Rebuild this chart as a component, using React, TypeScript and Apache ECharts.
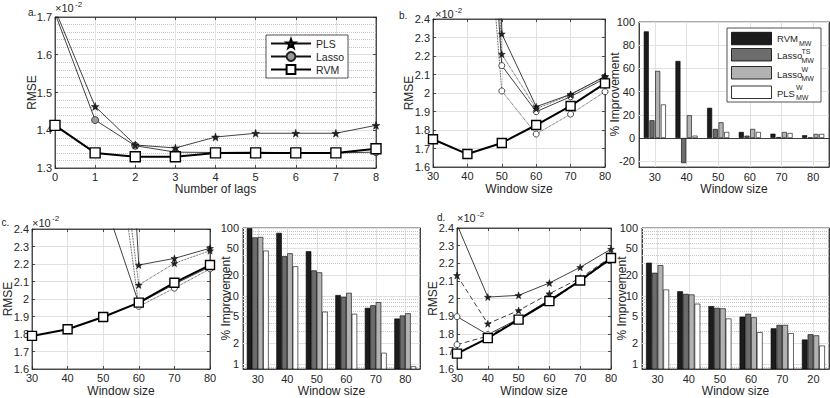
import { useEffect, useRef } from 'react';
import * as echarts from 'echarts';

const FONT = '"Liberation Sans", Arial, Helvetica, sans-serif';
const AX = '#262626';
const GRIDC = '#e1e1e1';
const MINOR = '#c4c4c4';

// ---------------- data ----------------
// panel a
const lags = [0, 1, 2, 3, 4, 5, 6, 7, 8];
const aPLS = [1.72, 1.463, 1.361, 1.353, 1.382, 1.392, 1.392, 1.392, 1.413];
const aLasso = [1.71, 1.427, 1.359, 1.342, 1.341, 1.342, 1.34, 1.34, 1.342];
const aRVM = [1.413, 1.34, 1.33, 1.33, 1.34, 1.34, 1.34, 1.34, 1.351];

// window sizes for the RMSE panels b, c, d
const windows = [30, 40, 50, 60, 70, 80];
const bPLS = [12, 10, 2.32, 1.926, 1.993, 2.09];
const bPLSd = [9, 6, 2.21, 1.915, 1.99, 2.088];
const bLasso = [9, 5, 2.148, 1.899, 1.98, 2.079];
const bLassod = [6, 4.3, 2.011, 1.778, 1.886, 2.007];
const bRVM = [1.75, 1.67, 1.73, 1.827, 1.93, 2.052];

const cPLS = [9, 8, 5.7, 2.194, 2.232, 2.29];
const cPLSd = [7, 6, 3.68, 2.08, 2.204, 2.276];
const cLasso = [4, 3, 2.58, 1.975, 2.085, 2.185];
const cLassod = [6, 5, 3.48, 1.958, 2.062, 2.172];
const cRVM = [1.789, 1.827, 1.897, 1.979, 2.093, 2.194];

const dPLS = [2.42, 2.008, 2.018, 2.088, 2.177, 2.28];
const dPLSd = [2.131, 1.857, 1.932, 2.027, 2.116, 2.235];
const dLasso = [1.897, 1.795, 1.885, 1.993, 2.103, 2.22];
const dLassod = [1.738, 1.787, 1.88, 1.984, 2.097, 2.224];
const dRVM = [1.687, 1.775, 1.88, 1.985, 2.102, 2.23];

// % improvement bar panels
const bCats = ['30', '40', '50', '60', '70', '80'];
const bImpRVM = [91.9, 66.4, 26, 5.2, 3.7, 2.4];
const bImpLassoTS = [15.3, -21.7, 7.8, 2, 0.8, 0.3];
const bImpLassoW = [57.8, 19.6, 13.5, 7.8, 5.2, 3.5];
const bImpPLSW = [28.9, 2, 5.2, 5.2, 4.3, 3.5];

const cCats = ['30', '40', '50', '60', '70', '80'];
const cImp1 = [98, 84, 45, 10.2, 6.6, 4.6];
const cImp2 = [72, 38, 23.5, 9.6, 7.2, 5.1];
const cImp3 = [73, 42, 22, 11, 8, 5.5];
const cImp4 = [46, 27, 5.8, 5.4, 1.44, 0.91];

const dCats = ['30', '40', '50', '60', '70', '20'];
const dImp1 = [30.5, 11.6, 7.0, 4.9, 3.3, 2.26];
const dImp2 = [21.7, 10.6, 6.6, 5.4, 3.7, 2.7];
const dImp3 = [28.1, 10.4, 6.5, 4.8, 3.7, 2.6];
const dImp4 = [12.3, 7.6, 4.6, 2.9, 2.8, 1.84];

// tick values
const linImpTicks = [-20, 0, 20, 40, 60, 80, 100];
const logMajorTicks = [1, 2, 5, 10, 20, 50, 100];
const logMinorTicks = [0.9, 3, 4, 6, 7, 8, 9, 30, 40, 60, 70, 80, 90];

const BAR_COLORS = ['#1c1c1c', '#6c6c6c', '#b2b2b2', '#ffffff'];

// ---------------- helpers ----------------
const STAR =
  'path://M10,0L12.35,6.76L19.51,6.91L13.8,11.24L15.88,18.09L10,14L4.12,18.09L6.2,11.24L0.49,6.91L7.65,6.76Z';

const zip = (xs: number[], ys: number[]) => xs.map((x, i) => [x, ys[i]]);

const tick = { show: true, inside: true, length: 3, lineStyle: { color: AX, width: 0.8 } };
const axLine = { show: true, onZero: false, lineStyle: { color: AX, width: 0.8 } };
const lbl = { color: AX, fontSize: 11, fontFamily: FONT };
const nameStyle = { color: AX, fontSize: 12, fontFamily: FONT };

function valAxis(g: number, min: number, max: number, interval: number, name: string, nameGap: number, extra: any = {}) {
  return {
    type: 'value', gridIndex: g, min, max, interval,
    axisLine: axLine, axisTick: tick,
    axisLabel: { ...lbl, margin: 3 },
    splitLine: { show: true, lineStyle: { color: GRIDC, width: 1 } },
    name, nameLocation: 'middle', nameGap, nameTextStyle: nameStyle,
    ...extra,
  };
}
function mirror(a: any, position: string) {
  return {
    ...a, position, name: '',
    axisLabel: { show: false }, splitLine: { show: false },
    minorSplitLine: { show: false },
  };
}
function catAxis(g: number, cats: string[]) {
  return {
    type: 'category', gridIndex: g, data: cats, boundaryGap: true,
    axisLine: axLine, axisTick: { ...tick, alignWithLabel: true },
    axisLabel: { ...lbl, margin: 4 }, splitLine: { show: false },
    name: 'Window size', nameLocation: 'middle', nameGap: 16, nameTextStyle: nameStyle,
  };
}

function rmseLine(name: string, g: number, xs: number[], ys: number[], kind: string, dash: string, big = false) {
  const lt: any = dash === 'dotted' ? 'dotted' : dash === 'dashed' ? [5, 3] : 'solid';
  const base: any = {
    type: 'line', name, xAxisIndex: 2 * g, yAxisIndex: 2 * g,
    data: zip(xs, ys), clip: true, silent: true, animation: false,
  };
  if (kind === 'rvm')
    return { ...base, symbol: 'rect', symbolSize: big ? 10 : 9, z: 5,
      lineStyle: { color: '#000', width: 2, type: lt },
      itemStyle: { color: '#fff', borderColor: '#000', borderWidth: 1.4 } };
  if (kind === 'pls')
    return { ...base, symbol: STAR, symbolSize: big ? 8 : 7, z: 4,
      lineStyle: { color: '#111', width: 0.8, type: lt },
      itemStyle: { color: '#222', borderColor: '#000', borderWidth: 0.4 } };
  return { ...base, symbol: 'circle', symbolSize: big ? 7 : 6, z: 3,
    lineStyle: { color: '#111', width: 0.8, type: lt },
    itemStyle: { color: big ? '#9a9a9a' : '#fff', borderColor: '#222', borderWidth: 0.8 } };
}

function logBars(g: number, vals: number[], k: number, color: string) {
  return {
    type: 'custom', xAxisIndex: 2 * g, yAxisIndex: 2 * g, z: 10, silent: true, clip: true,
    data: vals.map((v, i) => [i, v]),
    renderItem: (params: any, api: any) => {
      const p = api.coord([api.value(0), api.value(1)]);
      const cs = params.coordSys;
      const band = api.size([1, 0])[0];
      const w = band * 0.165;
      const step = band * 0.185;
      const cx = p[0] + (k - 1.5) * step;
      const bottom = cs.y + cs.height;
      return {
        type: 'rect',
        shape: { x: cx - w / 2, y: p[1], width: w, height: bottom - p[1] },
        style: { fill: color, stroke: '#000', lineWidth: 0.6 },
      };
    },
  };
}

function guides(g: number, nCats: number, majors: number[], minors: number[], zeroDark: boolean) {
  const data: any[] = [];
  for (let i = 0; i < nCats; i++)
    data.push({ xAxis: i, lineStyle: { color: GRIDC, width: 1, type: 'solid' }, label: { show: false } });
  majors.forEach((v) =>
    data.push({
      yAxis: v,
      lineStyle: { color: zeroDark && v === 0 ? AX : GRIDC, width: zeroDark && v === 0 ? 0.9 : 1, type: 'solid' },
      label: { show: true, position: 'start', formatter: String(v), color: AX, fontSize: 11, fontFamily: FONT, distance: 4 },
    }));
  minors.forEach((v) =>
    data.push({ yAxis: v, lineStyle: { color: MINOR, width: 1, type: 'dotted' }, label: { show: false } }));
  return {
    type: 'line', xAxisIndex: 2 * g, yAxisIndex: 2 * g, silent: true, z: 1,
    data: new Array(nCats).fill(null), symbol: 'none',
    markLine: { silent: true, symbol: ['none', 'none'], animation: false, z: 1, data },
  };
}

function txt(x: number, y: number, text: string, size: number) {
  return {
    type: 'text', x, y, silent: true,
    style: { text, fontSize: size, fontFamily: FONT, fill: AX, align: 'left', verticalAlign: 'middle' },
  };
}
function vtxt(x: number, y: number, text: string) {
  return {
    type: 'text', x, y, rotation: Math.PI / 2, silent: true,
    style: { text, fontSize: 12, fontFamily: FONT, fill: AX, align: 'center', verticalAlign: 'middle' },
  };
}

function buildOption() {
  const grids = [
    { left: 55, top: 17, width: 321, height: 151 },
    { left: 433, top: 19, width: 172, height: 148 },
    { left: 639, top: 22, width: 190, height: 145 },
    { left: 32, top: 229, width: 178, height: 140 },
    { left: 243, top: 228, width: 177, height: 141 },
    { left: 457, top: 228, width: 154, height: 141 },
    { left: 642, top: 228, width: 187, height: 141 },
  ].map((g) => ({ ...g, show: true, borderColor: AX, borderWidth: 0.8, containLabel: false, outerBoundsMode: 'none' }));

  const xAxes: any[] = [];
  const yAxes: any[] = [];
  const pushPair = (list: any[], a: any, pos: string) => { list.push(a); list.push(mirror(a, pos)); };

  // a
  pushPair(xAxes, valAxis(0, 0, 8, 1, 'Number of lags', 15), 'top');
  pushPair(yAxes, valAxis(0, 1.3, 1.7, 0.1, '', 17, {
    minorTick: { show: false, splitNumber: 5 },
    minorSplitLine: { show: true, lineStyle: { color: MINOR, type: 'dotted', width: 1 } },
  }), 'right');
  // b left
  pushPair(xAxes, valAxis(1, 30, 80, 10, 'Window size', 16), 'top');
  pushPair(yAxes, valAxis(1, 1.6, 2.4, 0.1, '', 18), 'right');
  // b right
  pushPair(xAxes, catAxis(2, bCats), 'top');
  const impY = {
    type: 'value', gridIndex: 2, min: -25, max: 100, axisLine: axLine, axisTick: { show: false },
    axisLabel: { show: false }, splitLine: { show: false },
  };
  pushPair(yAxes, impY, 'right');
  // c left
  pushPair(xAxes, valAxis(3, 30, 80, 10, 'Window size', 16), 'top');
  pushPair(yAxes, valAxis(3, 1.6, 2.4, 0.1, '', 18), 'right');
  // c right
  pushPair(xAxes, catAxis(4, cCats), 'top');
  const logY = (g: number) => ({
    type: 'log', logBase: 10, gridIndex: g, min: 0.84, max: 100, axisLine: axLine, axisTick: { show: false },
    axisLabel: { show: false }, splitLine: { show: false }, minorSplitLine: { show: false },
  });
  pushPair(yAxes, logY(4), 'right');
  // d left
  pushPair(xAxes, valAxis(5, 30, 80, 10, 'Window size', 16), 'top');
  pushPair(yAxes, valAxis(5, 1.6, 2.4, 0.1, '', 18), 'right');
  // d right
  pushPair(xAxes, catAxis(6, dCats), 'top');
  pushPair(yAxes, logY(6), 'right');

  const series: any[] = [
    // a
    rmseLine('PLS', 0, lags, aPLS, 'pls', 'solid', true),
    rmseLine('Lasso', 0, lags, aLasso, 'lasso', 'solid', true),
    rmseLine('RVM', 0, lags, aRVM, 'rvm', 'solid', true),
    // b left
    rmseLine('b PLS', 1, windows, bPLS, 'pls', 'solid'),
    rmseLine('b PLS dotted', 1, windows, bPLSd, 'pls', 'dotted'),
    rmseLine('b Lasso', 1, windows, bLasso, 'lasso', 'solid'),
    rmseLine('b Lasso dotted', 1, windows, bLassod, 'lasso', 'dotted'),
    rmseLine('b RVM', 1, windows, bRVM, 'rvm', 'solid'),
    // c left
    rmseLine('c PLS', 3, windows, cPLS, 'pls', 'solid'),
    rmseLine('c PLS dotted', 3, windows, cPLSd, 'pls', 'dotted'),
    rmseLine('c Lasso', 3, windows, cLasso, 'lasso', 'solid'),
    rmseLine('c Lasso dotted', 3, windows, cLassod, 'lasso', 'dotted'),
    rmseLine('c RVM', 3, windows, cRVM, 'rvm', 'solid'),
    // d left
    rmseLine('d PLS', 5, windows, dPLS, 'pls', 'solid'),
    rmseLine('d PLS dashed', 5, windows, dPLSd, 'pls', 'dashed'),
    rmseLine('d Lasso', 5, windows, dLasso, 'lasso', 'solid'),
    rmseLine('d Lasso dashed', 5, windows, dLassod, 'lasso', 'dashed'),
    rmseLine('d RVM', 5, windows, dRVM, 'rvm', 'solid'),
    // b right (linear bars)
    guides(2, bCats.length, linImpTicks, [], true),
    ...[bImpRVM, bImpLassoTS, bImpLassoW, bImpPLSW].map((vals, k) => ({
      type: 'bar', name: 'b imp ' + k, xAxisIndex: 4, yAxisIndex: 4, data: vals,
      barWidth: 5, barGap: '14%', silent: true, z: 10,
      itemStyle: { color: BAR_COLORS[k], borderColor: '#000', borderWidth: 0.6 },
    })),
    // c right (log bars)
    guides(4, cCats.length, logMajorTicks, logMinorTicks, false),
    ...[cImp1, cImp2, cImp3, cImp4].map((vals, k) => logBars(4, vals, k, BAR_COLORS[k])),
    // d right (log bars)
    guides(6, dCats.length, logMajorTicks, logMinorTicks, false),
    ...[dImp1, dImp2, dImp3, dImp4].map((vals, k) => logBars(6, vals, k, BAR_COLORS[k])),
  ];

  // legend of panel b (right) with stacked super/subscripts
  const swY = [32.3, 48.5, 66.5, 86];
  const legendB: any[] = [
    { type: 'rect', silent: true, shape: { x: 727, y: 28, width: 94, height: 74 }, style: { fill: '#fff', stroke: AX, lineWidth: 0.8 }, z: 50 },
    ...swY.map((y, k) => ({
      type: 'rect', silent: true, z: 51, shape: { x: 731.5, y, width: 40, height: 12.5 },
      style: { fill: BAR_COLORS[k], stroke: '#000', lineWidth: 0.8 },
    })),
    { ...txt(777, 38.5, 'RVM', 9.5), z: 52 },
    { ...txt(799, 43.5, 'MW', 7), z: 52 },
    { ...txt(777, 55.5, 'Lasso', 9.5), z: 52 },
    { ...txt(801.5, 51, 'TS', 7), z: 52 },
    { ...txt(801.5, 60, 'MW', 7), z: 52 },
    { ...txt(777, 74, 'Lasso', 9.5), z: 52 },
    { ...txt(801.5, 69.5, 'W', 7), z: 52 },
    { ...txt(801.5, 78.5, 'MW', 7), z: 52 },
    { ...txt(777, 93, 'PLS', 9.5), z: 52 },
    { ...txt(796, 87.5, 'W', 7), z: 52 },
    { ...txt(796, 97.5, 'MW', 7), z: 52 },
  ];

  const graphic: any[] = [
    txt(28, 12, 'a.', 10),
    txt(399, 15, 'b.', 10),
    txt(1.5, 222.5, 'c.', 10),
    txt(437, 217, 'd.', 10),
    txt(55, 8, '×10', 11), txt(75, 4, '-2', 8),
    txt(435, 14, '×10', 11), txt(455, 10.5, '-2', 8),
    txt(32, 222.5, '×10', 11), txt(52, 218.5, '-2', 8),
    txt(457, 218, '×10', 11), txt(477, 214, '-2', 8),
    // y axis titles
    vtxt(32, 92.5, 'RMSE'),
    vtxt(409, 93, 'RMSE'),
    vtxt(615, 94.5, '% Improvement'),
    vtxt(7.5, 299, 'RMSE'),
    vtxt(226, 298.5, '% Improvement'),
    vtxt(433, 298.5, 'RMSE'),
    vtxt(622, 298.5, '% Improvement'),
    ...legendB,
  ];

  return {
    animation: false,
    backgroundColor: '#fff',
    textStyle: { fontFamily: FONT },
    grid: grids,
    xAxis: xAxes,
    yAxis: yAxes,
    legend: {
      data: ['PLS', 'Lasso', 'RVM'],
      orient: 'vertical', left: 266, top: 35,
      padding: [3, 4, 3, 4], itemGap: 2, itemWidth: 40, itemHeight: 11,
      borderColor: AX, borderWidth: 0.8, backgroundColor: '#fff',
      textStyle: { color: AX, fontSize: 10.5, fontFamily: FONT },
      selectedMode: false,
    },
    graphic,
    series,
  };
}

export default function App() {
  const ref = useRef<HTMLDivElement>(null);
  useEffect(() => {
    if (!ref.current) return;
    const chart = echarts.init(ref.current, null, { renderer: 'svg' });
    chart.setOption(buildOption() as any);
    return () => chart.dispose();
  }, []);
  return (
    <div
      ref={ref}
      style={{ position: 'fixed', left: 0, top: 0, width: 830, height: 398, background: '#fff' }}
    />
  );
}
